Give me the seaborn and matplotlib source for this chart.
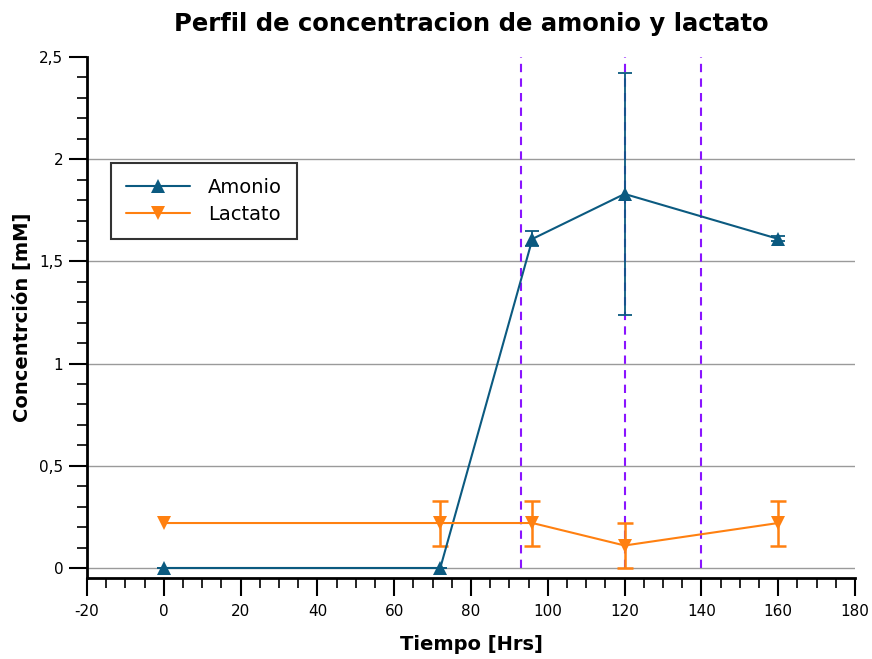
import matplotlib
matplotlib.use("Agg")
import matplotlib.pyplot as plt
import seaborn as sns
import pandas as pd
import numpy as np
from matplotlib.ticker import MultipleLocator, FuncFormatter

tiempo = [0, 72, 96, 120, 160]
amonio = [0.0, 0.0, 1.61, 1.83, 1.61]
amonio_err = [0.0, 0.0, 0.037, 0.59, 0.012]
lactato = [0.22, 0.22, 0.22, 0.11, 0.22]
lactato_err = [0.0, 0.11, 0.11, 0.11, 0.11]
vlines_x = [93, 120, 140]

c_am = "#0b5a80"
c_la = "#ff8010"
c_v = "#8a14ff"

sns.set_style("white", {"text.color": "black", "axes.labelcolor": "black",
                        "xtick.color": "black", "ytick.color": "black"})
plt.rcParams['font.family'] = ['DejaVu Sans']

fig = plt.figure(figsize=(8.72, 6.59), dpi=100)
ax = fig.add_axes([87/872, 1-578/659, (855-87)/872, (578-57)/659])

ax.set_xlim(-20, 180)
ax.set_ylim(-0.049, 2.5)

for yv in [0, 0.5, 1, 1.5, 2]:
    ax.axhline(yv, color="#9a9a9a", lw=1.0, zorder=0)

for xv in vlines_x:
    ax.plot([xv, xv], [0, 2.5], color=c_v, lw=1.5, ls=(0, (4, 3)), zorder=1)

df = pd.DataFrame({"Tiempo": tiempo * 2,
                   "val": amonio + lactato,
                   "serie": ["Amonio"] * 5 + ["Lactato"] * 5})

sns.lineplot(data=df, x="Tiempo", y="val", hue="serie", style="serie",
             markers={"Amonio": "^", "Lactato": "v"}, dashes=False,
             palette={"Amonio": c_am, "Lactato": c_la},
             markersize=10, markeredgewidth=0, lw=1.5, ax=ax, zorder=3)

ax.errorbar(tiempo, amonio, yerr=amonio_err, fmt="none", ecolor=c_am,
            elinewidth=1.3, capsize=5, capthick=1.3, zorder=2)
la_t = [t for t, e in zip(tiempo, lactato_err) if e > 0]
la_v = [v for v, e in zip(lactato, lactato_err) if e > 0]
la_e = [e for e in lactato_err if e > 0]
ax.errorbar(la_t, la_v, yerr=la_e, fmt="none", ecolor=c_la,
            elinewidth=1.8, capsize=6, capthick=1.8, zorder=2)

ax.xaxis.set_major_locator(MultipleLocator(20))
ax.xaxis.set_minor_locator(MultipleLocator(5))
ax.yaxis.set_major_locator(MultipleLocator(0.5))
ax.yaxis.set_minor_locator(MultipleLocator(0.1))
ax.yaxis.set_major_formatter(FuncFormatter(lambda v, p: ("%g" % v).replace(".", ",")))
ax.xaxis.set_major_formatter(FuncFormatter(lambda v, p: "%g" % v))

ax.tick_params(axis="both", which="major", direction="out", length=13, width=1.5,
               labelsize=11, colors="black", bottom=True, left=True)
ax.tick_params(axis="both", which="minor", direction="out", length=7, width=1.2,
               colors="black", bottom=True, left=True)
ax.tick_params(axis="y", which="major", pad=4)
ax.tick_params(axis="x", which="major", pad=6)

for s in ["top", "right"]:
    ax.spines[s].set_visible(False)
for s in ["left", "bottom"]:
    ax.spines[s].set_color("black")
    ax.spines[s].set_linewidth(2)
ax.spines["left"].set_bounds(-0.049, 2.5)

ax.set_xlabel("Tiempo [Hrs]", fontsize=14, fontweight="bold", labelpad=11, color="black")
ax.set_ylabel("Concentrción [mM]", fontsize=14, fontweight="bold", labelpad=5, color="black")
ax.set_title("Perfil de concentracion de amonio y lactato", fontsize=17.5,
             fontweight="bold", pad=19, color="black")

leg = ax.legend(loc="upper left", bbox_to_anchor=(0.018, 0.816), fontsize=14,
                frameon=True, fancybox=False, edgecolor="black",
                borderpad=0.8, handlelength=3.3, labelspacing=0.4,
                handletextpad=0.9)
leg.get_frame().set_linewidth(1.5)
leg.set_title(None)

fig.savefig("out.png", dpi=100)
